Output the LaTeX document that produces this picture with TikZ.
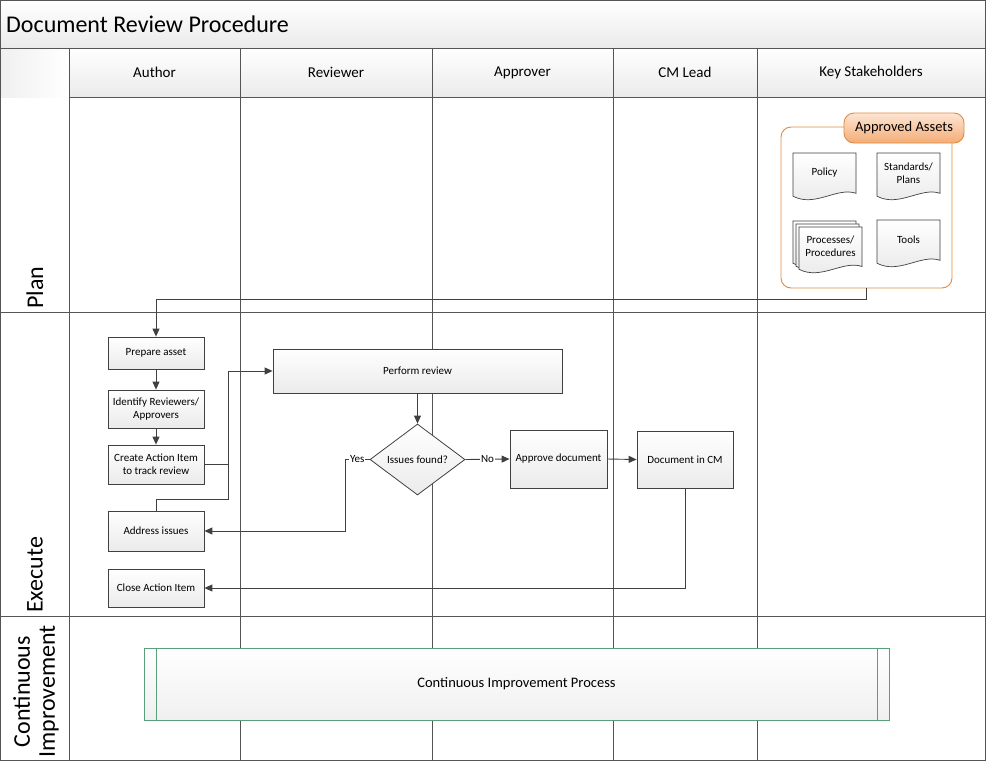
\documentclass[tikz,border=0pt]{standalone}
\usepackage{fontspec}
\setmainfont{Carlito}
\usetikzlibrary{shapes.geometric,arrows.meta,calc}
\definecolor{lineC}{HTML}{404040}
\definecolor{gridC}{HTML}{555555}
\definecolor{orangeB}{HTML}{E08A42}
\definecolor{orangeT}{HTML}{FDE6D4}
\definecolor{orangeBt}{HTML}{F4AC76}
\definecolor{greenB}{HTML}{5A9E7A}
\newcommand\docshape[4]{%
  \draw[draw=lineC, line width=0.7pt, top color=white, bottom color=black!9]
    (#1,#2) -- ({#1+#3},#2) -- ({#1+#3},{#2+0.84*#4})
    .. controls ({#1+0.7*#3},{#2+0.70*#4}) and ({#1+0.35*#3},{#2+1.14*#4}) ..
    (#1,{#2+0.9*#4}) -- cycle;}
\begin{document}
\begin{tikzpicture}[x=1pt,y=-1pt,
  box/.style={draw=lineC, line width=0.8pt, top color=white, bottom color=black!8,
    minimum width=96pt, align=center, font=\fontsize{11}{13}\selectfont, inner sep=2pt},
  conn/.style={draw=lineC, line width=0.9pt},
  arr/.style={conn, -{Triangle[length=8pt,width=7pt]}},
  lbl/.style={fill=white, inner sep=1pt, font=\fontsize{11}{13}\selectfont},
  hdr/.style={font=\fontsize{15}{18}\selectfont},
  lanelbl/.style={font=\fontsize{24}{25}\selectfont, rotate=90, anchor=west, align=center, inner sep=2pt},
  doctext/.style={font=\fontsize{11}{13}\selectfont, align=center, inner sep=0pt},
  grid/.style={draw=gridC, line width=0.8pt},
  hcell/.style={grid, top color=white, bottom color=black!8}
]
\useasboundingbox (0,0) rectangle (986,761);
% title band
\path[top color=white, bottom color=black!8] (0,0) rectangle (986,48);
\node[anchor=west, font=\fontsize{24}{26}\selectfont, inner sep=0pt] (title) at (6,24) {Document Review Procedure};
% corner cell
\path[left color=black!6, right color=white] (0,48) rectangle (69,97);
% header cells
\draw[hcell] (69,48) rectangle (240,97);
\draw[hcell] (240,48) rectangle (432,97);
\draw[hcell] (432,48) rectangle (613,97);
\draw[hcell] (613,48) rectangle (757,97);
\draw[hcell] (757,48) rectangle (985.5,97);
\node[hdr] (hAuthor) at (154.5,72.5) {Author};
\node[hdr] (hReviewer) at (336,72.5) {Reviewer};
\node[hdr] (hApprover) at (522.5,72.5) {Approver};
\node[hdr] (hCM) at (685,72.5) {CM Lead};
\node[hdr] (hKey) at (871,72.5) {Key Stakeholders};
% grid lines
\draw[grid] (0,48) -- (986,48);
\draw[grid] (69,48) -- (69,761);
\foreach \xx in {240,432,613,757} \draw[grid] (\xx,97) -- (\xx,761);
\draw[grid] (0,312) -- (986,312);
\draw[grid] (0,616) -- (986,616);
\draw[draw=gridC, line width=1.2pt] (0.6,0.6) rectangle (985.4,760.4);
% lane labels
\node[lanelbl] (lPlan) at (35,311) {Plan};
\node[lanelbl] (lExec) at (35,615) {Execute};
\node[lanelbl] (lCI) at (36,760) {Continuous\\Improvement};
% approved assets
\node[draw=orangeB, line width=0.9pt, fill=white, rounded corners=10pt, minimum width=171pt, minimum height=161pt] (assets) at (866.5,207.5) {};
\node[draw=orangeB, line width=0.9pt, rounded corners=10pt, top color=orangeT, bottom color=orangeBt,
  minimum width=120pt, minimum height=30pt, inner sep=0pt, font=\fontsize{14.5}{16}\selectfont] (tab) at (904,128) {Approved Assets};
\docshape{793}{153}{63}{48}
\node[doctext] (policy) at (824.5,173) {Policy};
\docshape{877}{153}{63}{48}
\node[doctext] (standards) at (908.5,173) {Standards/\\Plans};
\docshape{793}{221}{63}{47}
\docshape{796}{224}{63}{47}
\docshape{799}{227}{63}{47}
\node[doctext] (processes) at (830.5,246.5) {Processes/\\Procedures};
\docshape{877}{220}{63}{48}
\node[doctext] (tools) at (908.5,240) {Tools};
% process boxes
\node[box, minimum height=32pt] (prep) at (156,353) {Prepare asset};
\node[box, minimum height=38pt] (ident) at (156,409) {Identify Reviewers/\\Approvers};
\node[box, minimum height=39pt] (create) at (156,464.5) {Create Action Item\\to track review};
\node[box, minimum height=40pt] (addr) at (156,531) {Address issues};
\node[box, minimum height=38pt] (close) at (156,588) {Close Action Item};
\node[box, minimum width=289pt, minimum height=44pt] (review) at (417.5,371) {Perform review};
\node[draw=lineC, line width=0.8pt, top color=white, bottom color=black!8, diamond, minimum width=95pt, minimum height=71pt,
  inner sep=0pt, font=\fontsize{11}{13}\selectfont] (dia) at (417.5,459.5) {Issues found?};
\node[box, minimum width=97pt, minimum height=58pt] (appr) at (558.5,459) {Approve document};
\node[box, minimum width=96pt, minimum height=57pt] (cm) at (685,459.5) {Document in CM};
% CI process
\node[draw=greenB, line width=0.9pt, top color=white, bottom color=black!6, minimum width=745pt, minimum height=72pt,
  font=\fontsize{14.5}{16}\selectfont] (ci) at (516.5,684) {Continuous Improvement Process};
\draw[draw=greenB, line width=0.9pt] ([xshift=13pt]ci.north west) -- ([xshift=13pt]ci.south west);
\draw[draw=greenB, line width=0.9pt] ([xshift=-12pt]ci.north east) -- ([xshift=-12pt]ci.south east);
% connectors
\coordinate (j1) at (228,0);
\coordinate (yj) at (345,0);
\draw[arr] (assets.south) -- ++(0,11) -| (prep.north);
\draw[arr] (prep.south) -- (ident.north);
\draw[arr] (ident.south) -- (create.north);
\draw[arr] (create.east) -- (create.east -| j1) |- (review.west);
\draw[conn] (addr.north) -- ++(0,-11) -| (create.east -| j1);
\draw[arr] (review.south) -- (dia.north);
\draw[arr] (dia.west) -- node[lbl] {Yes} (dia.west -| yj) |- (addr.east);
\draw[arr] (dia.east) -- node[lbl] {No} (appr.west);
\draw[arr] (appr.east) -- (cm.west);
\draw[arr] (cm.south) |- (close.east);
\end{tikzpicture}
\end{document}
